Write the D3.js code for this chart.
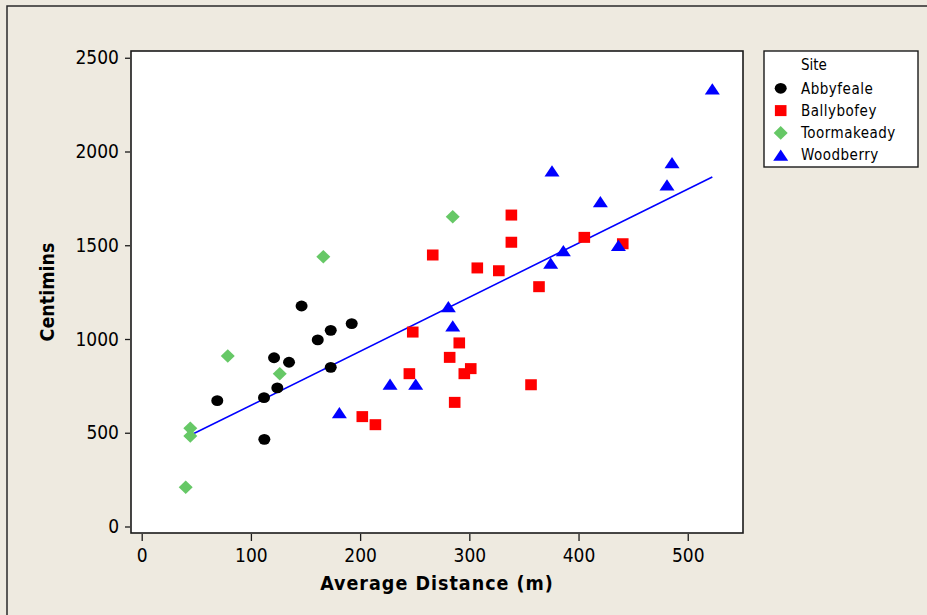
<!DOCTYPE html>
<html>
<head>
<meta charset="utf-8">
<script src="https://cdn.jsdelivr.net/npm/d3@7"></script>
<style>
  html, body { margin: 0; padding: 0; background: #EEEAE0; }
  svg { display: block; }
  text { font-family: "DejaVu Sans Condensed", "DejaVu Sans", sans-serif; fill: #000; }
</style>
</head>
<body>
<svg id="chart" width="927" height="615"></svg>
<script>
// Average distance (m) and centimins, one pair of arrays per site
const abbyfealeX = [146.4, 192.3, 173.1, 161.2, 121.2, 134.9, 173.1, 124.2, 112.0, 69.2, 112.3];
const abbyfealeY = [1176, 1082, 1046, 995, 900, 876, 849, 739, 687, 671, 465];

const ballybofeyX = [248.2, 245.1, 202.0, 214.0, 363.8, 290.8, 282.0, 301.3, 295.4, 356.5, 286.6,
                     338.5, 338.5, 266.5, 307.3, 327.0, 405.3, 440.5];
const ballybofeyY = [1037, 815, 586, 543, 1279, 979, 902, 842, 815, 756, 662,
                     1661, 1516, 1448, 1379, 1364, 1542, 1508];

const toormakeadyX = [78.8, 126.4, 44.5, 44.5, 40.3, 166.3, 284.8];
const toormakeadyY = [909, 815, 524, 483, 209, 1439, 1652];

const woodberryX = [522.5, 485.6, 481.0, 375.7, 420.0, 386.1, 374.5, 436.5, 280.8, 284.8, 227.4, 250.9, 181.0];
const woodberryY = [2333, 1940, 1821, 1896, 1732, 1471, 1404, 1498, 1172, 1069, 758, 758, 607];

const siteNames = ["Abbyfeale", "Ballybofey", "Toormakeady", "Woodberry"];
const siteColors = ["#000000", "#FF0000", "#66C866", "#0000FF"];
const siteShapes = ["circle", "square", "diamond", "triangle"];

// Fitted regression line: Centimins = intercept + slope * distance
const fitIntercept = 358;
const fitSlope = 2.883;

const xTicks = [0, 100, 200, 300, 400, 500];
const yTicks = [0, 500, 1000, 1500, 2000, 2500];

const xTitle = "Average Distance (m)";
const yTitle = "Centimins";
const legendTitle = "Site";

const sites = [
  { xs: abbyfealeX, ys: abbyfealeY },
  { xs: ballybofeyX, ys: ballybofeyY },
  { xs: toormakeadyX, ys: toormakeadyY },
  { xs: woodberryX, ys: woodberryY }
].map((s, i) => ({
  name: siteNames[i], color: siteColors[i], shape: siteShapes[i],
  points: s.xs.map((x, j) => ({ x, y: s.ys[j] }))
}));

const svg = d3.select("#chart");
const plot = { left: 131, right: 743, top: 51, bottom: 533 };

const x = d3.scaleLinear().domain([-9.8, 550.6]).range([plot.left, plot.right]);
const y = d3.scaleLinear().domain([-34.7, 2536]).range([plot.bottom, plot.top]);

// Outer window frame
svg.append("path")
  .attr("d", "M7,615 L7,6 L927,6")
  .attr("fill", "none").attr("stroke", "#2a2a2a").attr("stroke-width", 1.5);

// Plot area
svg.append("rect")
  .attr("x", plot.left).attr("y", plot.top)
  .attr("width", plot.right - plot.left).attr("height", plot.bottom - plot.top)
  .attr("fill", "#fff").attr("stroke", "#1a1a1a").attr("stroke-width", 1.6);

// Axes
const yAxis = svg.append("g")
  .attr("transform", `translate(${plot.left - 1},0)`)
  .call(d3.axisLeft(y).tickValues(yTicks).tickSize(5).tickPadding(6).tickFormat(d3.format("d")));
const xAxis = svg.append("g")
  .attr("transform", `translate(0,${plot.bottom + 1})`)
  .call(d3.axisBottom(x).tickValues(xTicks).tickSize(7).tickPadding(8).tickFormat(d3.format("d")));
[xAxis, yAxis].forEach(g => {
  g.select(".domain").remove();
  g.selectAll(".tick line").attr("stroke", "#1a1a1a").attr("stroke-width", 1.3);
  g.selectAll(".tick text")
    .attr("font-family", "'DejaVu Sans Condensed', 'DejaVu Sans', sans-serif")
    .attr("font-size", 19).attr("fill", "#000");
});

// Axis titles
svg.append("text")
  .attr("x", (plot.left + plot.right) / 2).attr("y", 590)
  .attr("text-anchor", "middle").attr("font-weight", "bold").attr("font-size", 19.5)
  .attr("letter-spacing", 1)
  .text(xTitle);
svg.append("text")
  .attr("transform", `translate(54,${(plot.top + plot.bottom) / 2}) rotate(-90)`)
  .attr("text-anchor", "middle").attr("font-weight", "bold").attr("font-size", 19.5)
  .text(yTitle);

// Marker shapes
function marker(sel, shape, color) {
  if (shape === "circle") {
    sel.append("ellipse").attr("rx", 6).attr("ry", 5.4).attr("fill", color);
  } else if (shape === "square") {
    sel.append("rect").attr("x", -5.8).attr("y", -5.5).attr("width", 11.6).attr("height", 11).attr("fill", color);
  } else if (shape === "diamond") {
    sel.append("path").attr("d", "M0,-6.8 L7,0 L0,6.8 L-7,0 Z").attr("fill", color);
  } else {
    sel.append("path").attr("d", "M0,-5.8 L7.5,5.5 L-7.5,5.5 Z").attr("fill", color);
  }
}

// Regression line across the range of distances
const xExt = d3.extent(sites.flatMap(s => s.points), d => d.x);
svg.append("line")
  .attr("x1", x(xExt[0])).attr("y1", y(fitIntercept + fitSlope * xExt[0]))
  .attr("x2", x(xExt[1])).attr("y2", y(fitIntercept + fitSlope * xExt[1]))
  .attr("stroke", "#0000FF").attr("stroke-width", 1.6);

// Points, drawn site by site
sites.forEach(s => {
  svg.append("g").selectAll("g").data(s.points).join("g")
    .attr("transform", d => `translate(${x(d.x)},${y(d.y)})`)
    .each(function () { marker(d3.select(this), s.shape, s.color); });
});

// Legend
const legend = svg.append("g");
legend.append("rect")
  .attr("x", 764).attr("y", 51).attr("width", 154).attr("height", 116)
  .attr("fill", "#fff").attr("stroke", "#1a1a1a").attr("stroke-width", 1.4);
legend.append("text")
  .attr("x", 801).attr("y", 65).attr("dy", "0.35em").attr("font-size", 15)
  .text(legendTitle);
sites.forEach((s, i) => {
  const cy = 88.3 + i * 22.3;
  const g = legend.append("g").attr("transform", `translate(780.7,${cy})`);
  marker(g, s.shape, s.color);
  legend.append("text")
    .attr("x", 801).attr("y", cy).attr("dy", "0.35em").attr("font-size", 15)
    .attr("letter-spacing", 0.5)
    .text(s.name);
});
</script>
</body>
</html>
